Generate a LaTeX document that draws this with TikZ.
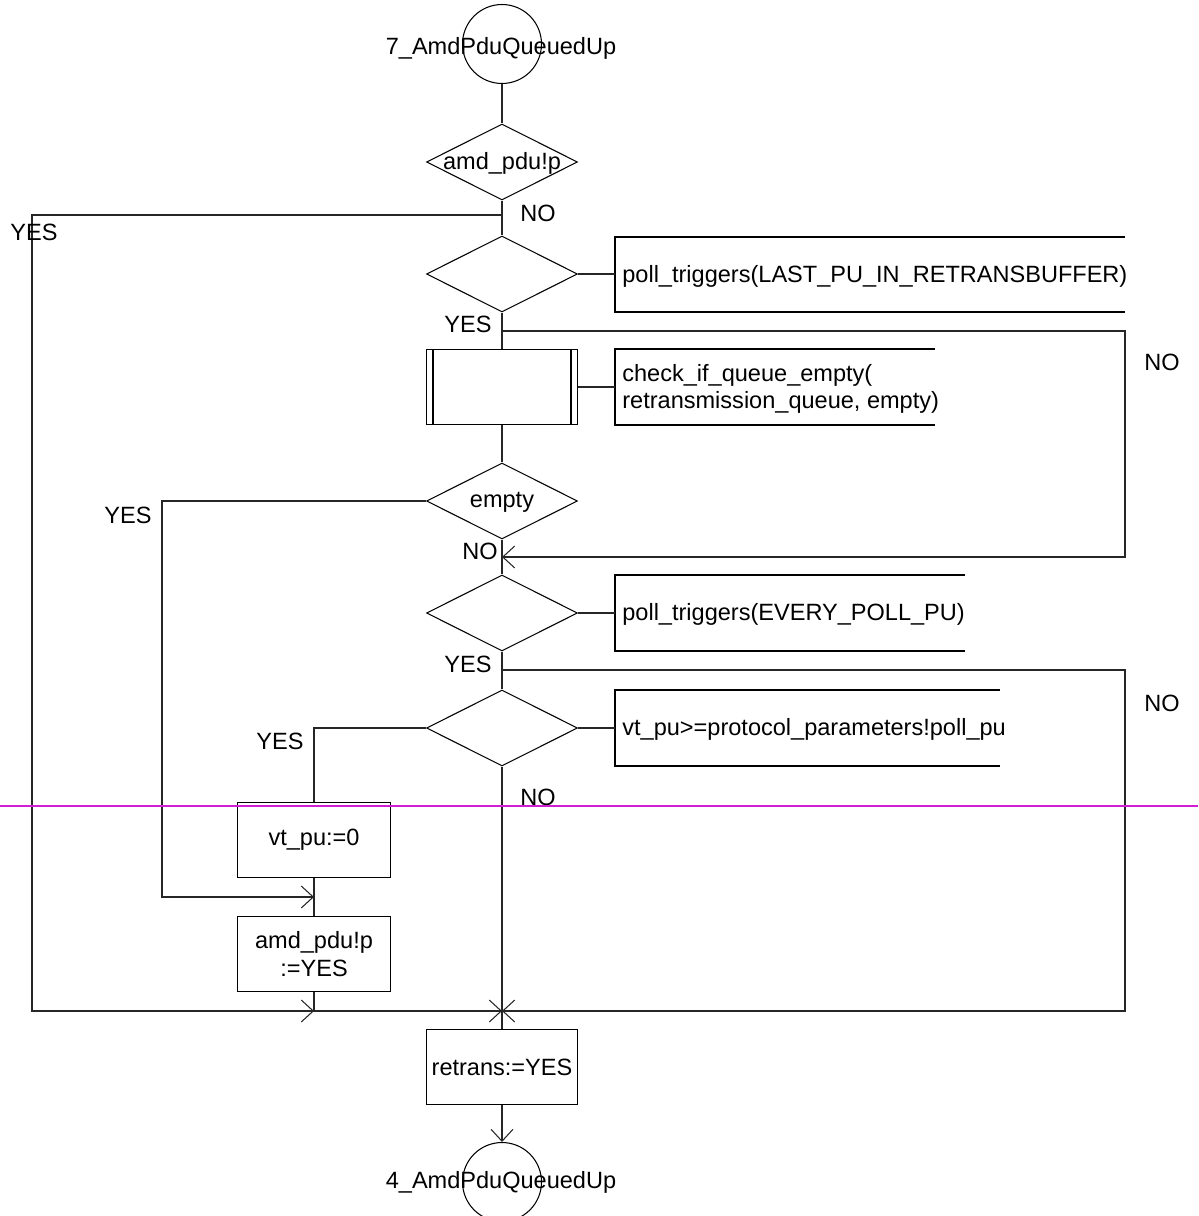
\documentclass[tikz,border=0pt]{standalone}
\usepackage{fontspec}
\setmainfont{Liberation Sans}
\usetikzlibrary{shapes.geometric,arrows.meta}
\definecolor{pagebreak}{RGB}{210,30,210}
\begin{document}
\begin{tikzpicture}[x=0.02cm,y=-0.02cm,
  every node/.style={font=\fontsize{13.4}{15.5}\selectfont},
  ln/.style={line width=0.6pt, draw=black!85},
  dec/.style={shape=diamond, draw, line width=0.6pt, minimum width=3.02cm, minimum height=1.52cm, inner sep=0pt, aspect=2},
  task/.style={shape=rectangle, draw, line width=0.6pt, minimum width=3.02cm, minimum height=1.5cm, inner sep=0pt, align=center},
  conn/.style={shape=circle, draw, line width=0.6pt, minimum size=1.58cm, inner sep=0pt},
  lbl/.style={inner sep=0pt},
  arr/.style={ln, -{Straight Barb[length=6.8pt,width=12.5pt]}},
  note/.style={anchor=west, inner sep=0pt, align=left},
  bracket/.style={line width=0.6pt, draw=black},
]
\useasboundingbox (0,0) rectangle (1198,1216);

% ---- connectors (start / stop)
\node[conn] (start) at (502,44) {};
\node[lbl] (startT) at (501,48) {7\_AmdPduQueuedUp};
\node[conn] (stop) at (502,1182) {};
\node[lbl] (stopT) at (501,1182) {4\_AmdPduQueuedUp};

% ---- decisions and tasks
\node[dec] (q1) at (502,162) {};
\node[lbl] (q1T) at (502,163) {amd\_pdu!p};
\node[dec] (q2) at (502,274) {};
\node[task] (chk) at (502,387) {};
\draw[line width=0.6pt] ([xshift=0.14cm]chk.north west) -- ([xshift=0.14cm]chk.south west)
                        ([xshift=-0.14cm]chk.north east) -- ([xshift=-0.14cm]chk.south east);
\node[dec] (q3) at (502,501) {};
\node[lbl] (q3T) at (502,502) {empty};
\node[dec] (q4) at (502,613) {};
\node[dec] (q5) at (502,728) {};
\node[task, minimum width=3.06cm] (vt) at (314,840) {vt\_pu:=0};
\node[task, minimum width=3.06cm] (setp) at (314,954) {amd\_pdu!p\\:=YES};
\node[task] (rt) at (502,1067) {retrans:=YES};

% ---- comment brackets
\draw[bracket] (1125,237) -- (615,237) -- (615,312) -- (1125,312);
\node[note] (n1) at (622,276) {poll\_triggers(LAST\_PU\_IN\_RETRANSBUFFER)};
\draw[bracket] (935,349) -- (615,349) -- (615,425) -- (935,425);
\node[note] (n2) at (622,389) {check\_if\_queue\_empty(\\retransmission\_queue, empty)};
\draw[bracket] (965,575) -- (615,575) -- (615,651) -- (965,651);
\node[note] (n3) at (622,614) {poll\_triggers(EVERY\_POLL\_PU)};
\draw[bracket] (1000,690) -- (615,690) -- (615,766) -- (1000,766);
\node[note] (n4) at (622,729) {vt\_pu>=protocol\_parameters!poll\_pu};

\coordinate (b1) at (615,274);
\coordinate (b2) at (615,387);
\coordinate (b3) at (615,613);
\coordinate (b4) at (615,728);
\draw[ln] (q2.east) -- (b1);
\draw[ln] (chk.east) -- (b2);
\draw[ln] (q4.east) -- (b3);
\draw[ln] (q5.east) -- (b4);

% ---- junction points
\coordinate (j1) at (502,215);
\coordinate (j2) at (502,331);
\coordinate (mN) at (502,557);
\coordinate (j4) at (502,670);
\coordinate (mV) at (314,897);
\coordinate (mL) at (314,1011);
\coordinate (mC) at (502,1011);

% ---- main flow
\draw[ln] (start.south) -- (q1.north);
\draw[ln] (q1.south) -- (q2.north);
\draw[ln] (q2.south) -- (chk.north);
\draw[ln] (chk.south) -- (q3.north);
\draw[ln] (q3.south) -- (q4.north);
\draw[ln] (q4.south) -- (q5.north);
\draw[ln] (q5.south) -- (mC) -- (rt.north);
\draw[arr] (rt.south) -- (stop.north);

% ---- branches
\draw[arr] (j1) -- (32,215) -- (32,1011) -- (mL);
\draw[arr] (j2) -- (1125,331) -- (1125,557) -- (mN);
\draw[arr] (q3.west) -- (162,501) -- (162,897) -- (mV);
\draw[arr] (j4) -- (1125,670) -- (1125,1011) -- (mC);
\draw[ln] (q5.west) -| (vt.north);
\draw[ln] (vt.south) -- (setp.north);
\draw[arr] (setp.south) -- (mL) -- (mC);

% ---- branch labels
\node[lbl] (l1) at (538,213) {NO};
\node[lbl] (l2) at (34,232) {YES};
\node[lbl] (l3) at (468,324) {YES};
\node[lbl] (l4) at (1162,362) {NO};
\node[lbl] (l5) at (128,515) {YES};
\node[lbl] (l6) at (480,551) {NO};
\node[lbl] (l7) at (468,664) {YES};
\node[lbl] (l8) at (1162,703) {NO};
\node[lbl] (l9) at (280,741) {YES};
\node[lbl] (l10) at (538,797) {NO};

% ---- page break marker
\draw[pagebreak, line width=0.6pt] (0,806) -- (1198,806);
\end{tikzpicture}
\end{document}
